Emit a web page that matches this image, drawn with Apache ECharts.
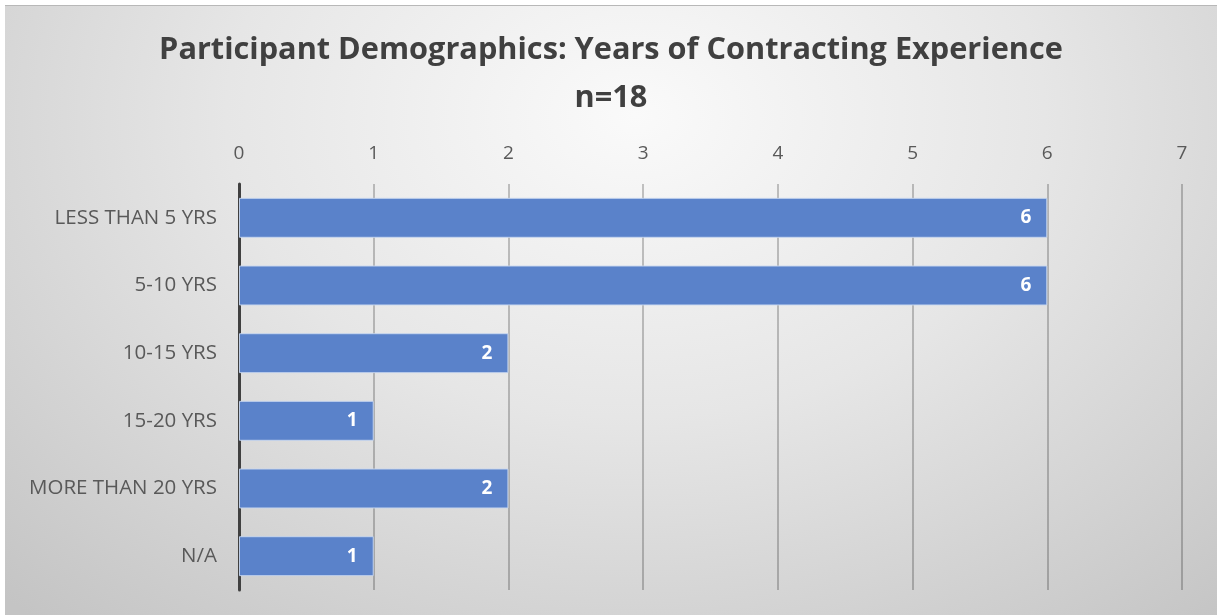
<!DOCTYPE html>
<html><head><meta charset="utf-8">
<script src="https://cdn.jsdelivr.net/npm/echarts@6/dist/echarts.min.js"></script>
<style>
html,body{margin:0;padding:0;background:#fff;}
#c{position:absolute;left:5px;top:5px;width:1212px;height:610px;
background:radial-gradient(ellipse 75% 110% at 52% 18%, #fafafa 0%, #e6e6e6 45%, #c4c4c4 100%);
border-top:1px solid #b8b8b8;box-sizing:border-box;}
</style></head><body>
<div id="c"></div>
<script>
const categories = ['LESS THAN 5 YRS','5-10 YRS','10-15 YRS','15-20 YRS','MORE THAN 20 YRS','N/A'];
const values = [6,6,2,1,2,1];
const xTicks = [0,1,2,3,4,5,6,7];
const titleLines = ['Participant Demographics: Years of Contracting Experience','n=18'];
const FONT = 'Open Sans';
const chart = echarts.init(document.getElementById('c'));
const tStyle = {fontFamily:FONT,fontWeight:'bold',fontSize:30.7,color:'#404040'};
chart.setOption({
  backgroundColor:'transparent',
  title:[
    {text:titleLines[0],left:'center',top:24,textStyle:tStyle},
    {text:titleLines[1],left:'center',top:72,textStyle:tStyle}
  ],
  grid:{left:234,right:35,top:178,bottom:25},
  xAxis:{type:'value',position:'top',min:xTicks[0],max:xTicks[xTicks.length-1],interval:1,
    axisLine:{show:false},axisTick:{show:false},
    axisLabel:{fontFamily:FONT,fontSize:19,color:'#595959',margin:21},
    splitLine:{lineStyle:{color:'rgba(0,0,0,0.22)',width:2}}},
  yAxis:{type:'category',data:categories,inverse:true,
    axisLine:{lineStyle:{color:'#404040',width:3}},axisTick:{show:false},
    axisLabel:{fontFamily:FONT,fontSize:20.5,color:'#595959',margin:22}},
  series:[{type:'bar',data:values,barCategoryGap:'41%',
    itemStyle:{color:'#5a82ca',borderColor:'rgba(200,215,240,0.9)',borderWidth:1},
    label:{show:true,position:'insideRight',distance:16,fontFamily:FONT,fontWeight:'bold',fontSize:19,color:'#fff'}}]
});
</script></body></html>
